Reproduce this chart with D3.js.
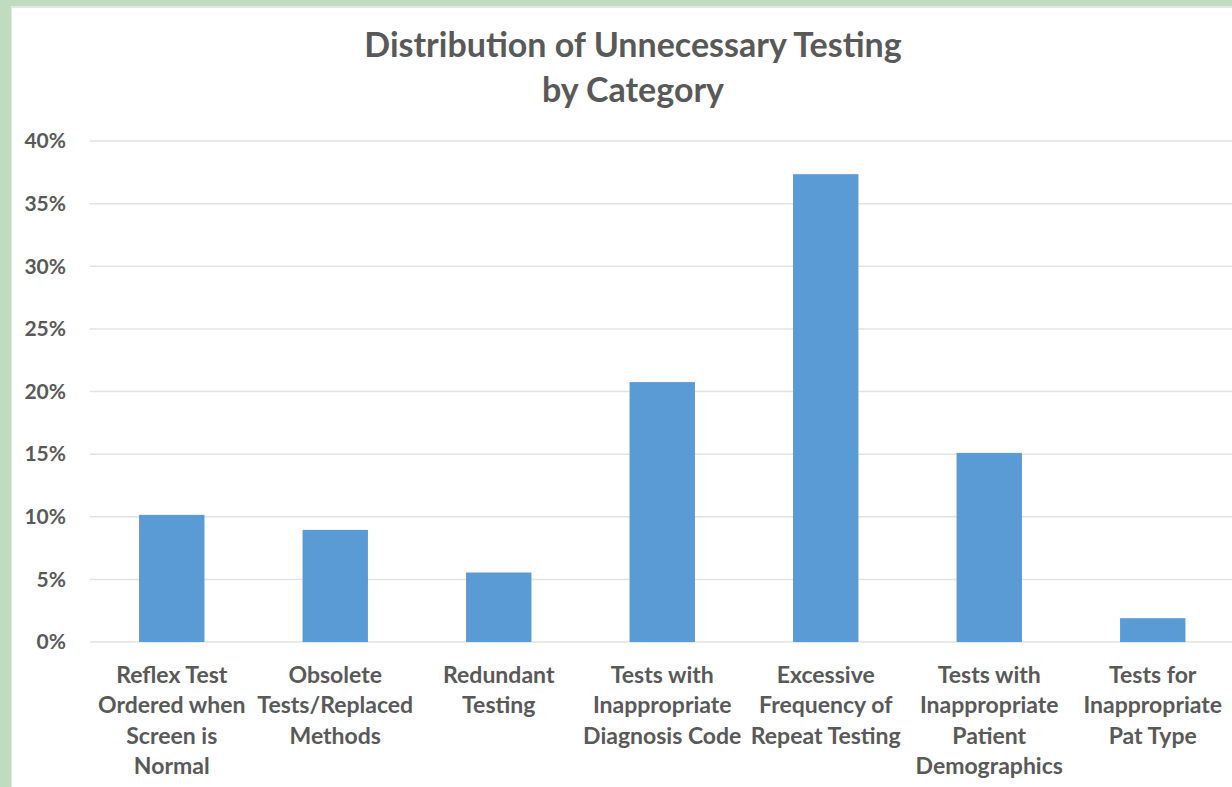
<!DOCTYPE html>
<html lang="en">
<head>
<meta charset="UTF-8">
<title>Distribution of Unnecessary Testing</title>
<style>
    * { margin: 0; padding: 0; }
    body { background: #bfdcbf; overflow: hidden; }
    svg { display: block; }
    text { font-family: Lato, "Open Sans", sans-serif; font-weight: 700; fill: #595959; }
</style>
</head>
<body>
<div id="chart"></div>
<script src="https://cdn.jsdelivr.net/npm/d3@7/dist/d3.min.js"></script>
<script>
"use strict";

// categories, written as the label lines shown under each bar
var categories = [
    ["Reflex Test", "Ordered when", "Screen is", "Normal"],
    ["Obsolete", "Tests/Replaced", "Methods"],
    ["Redundant", "Testing"],
    ["Tests with", "Inappropriate", "Diagnosis Code"],
    ["Excessive", "Frequency of", "Repeat Testing"],
    ["Tests with", "Inappropriate", "Patient", "Demographics"],
    ["Tests for", "Inappropriate", "Pat Type"]
];

// share of unnecessary tests (%)
var values = [10.15, 8.95, 5.55, 20.75, 37.35, 15.1, 1.9];

var yTicks = [0, 5, 10, 15, 20, 25, 30, 35, 40];

var titleLines = ["Distribution of Unnecessary Testing", "by Category"];

(function() {

    var width = 1232,
        height = 787;

    var svg = d3.select('#chart')
        .append('svg')
        .attr('width', width)
        .attr('height', height);

    // green frame + white card
    svg.append('rect')
        .attr('width', width).attr('height', height)
        .attr('fill', '#bfdcbf');

    svg.append('rect')
        .attr('x', 11).attr('y', 6)
        .attr('width', width).attr('height', height)
        .attr('fill', '#e4e6e4');

    svg.append('rect')
        .attr('x', 12).attr('y', 8)
        .attr('width', width).attr('height', height)
        .attr('fill', '#ffffff');

    var ids = d3.range(categories.length);

    var x = d3.scaleBand()
        .domain(ids)
        .range([90, 1234.5])
        .paddingInner(0.6)
        .paddingOuter(0.3);

    var y = d3.scaleLinear()
        .domain([0, 40])
        .range([642, 141]);

    // gridlines
    svg.append('g')
        .selectAll('line')
        .data(yTicks)
        .enter()
        .append('line')
        .attr('x1', 90)
        .attr('x2', width)
        .attr('y1', function(d) { return y(d); })
        .attr('y2', function(d) { return y(d); })
        .attr('stroke', '#e2e2e2')
        .attr('stroke-width', 1.5);

    // y tick labels
    svg.append('g')
        .selectAll('text')
        .data(yTicks)
        .enter()
        .append('text')
        .attr('x', 66)
        .attr('y', function(d) { return y(d); })
        .attr('dy', '0.35em')
        .attr('text-anchor', 'end')
        .style('font-size', '21px')
        .text(function(d) { return d + '%'; });

    // bars
    svg.append('g')
        .selectAll('rect')
        .data(values)
        .enter()
        .append('rect')
        .attr('x', function(d, i) { return x(i); })
        .attr('y', function(d) { return y(d); })
        .attr('width', x.bandwidth())
        .attr('height', function(d) { return y(0) - y(d); })
        .attr('fill', '#5b9bd5');

    // category labels
    var labels = svg.append('g')
        .selectAll('text')
        .data(categories)
        .enter()
        .append('text')
        .attr('text-anchor', 'middle')
        .style('font-size', '23px');

    labels.selectAll('tspan')
        .data(function(d, i) {
            return d.map(function(line) { return { line: line, i: i }; });
        })
        .enter()
        .append('tspan')
        .attr('x', function(d) { return x(d.i) + x.bandwidth() / 2; })
        .attr('y', function(d, j) { return 683 + j * 30.3; })
        .text(function(d) { return d.line; });

    // title
    svg.append('g')
        .selectAll('text')
        .data(titleLines)
        .enter()
        .append('text')
        .attr('x', 633)
        .attr('y', function(d, i) { return 57 + i * 45; })
        .attr('text-anchor', 'middle')
        .style('font-size', '34px')
        .text(function(d) { return d; });

})();
</script>
</body>
</html>
